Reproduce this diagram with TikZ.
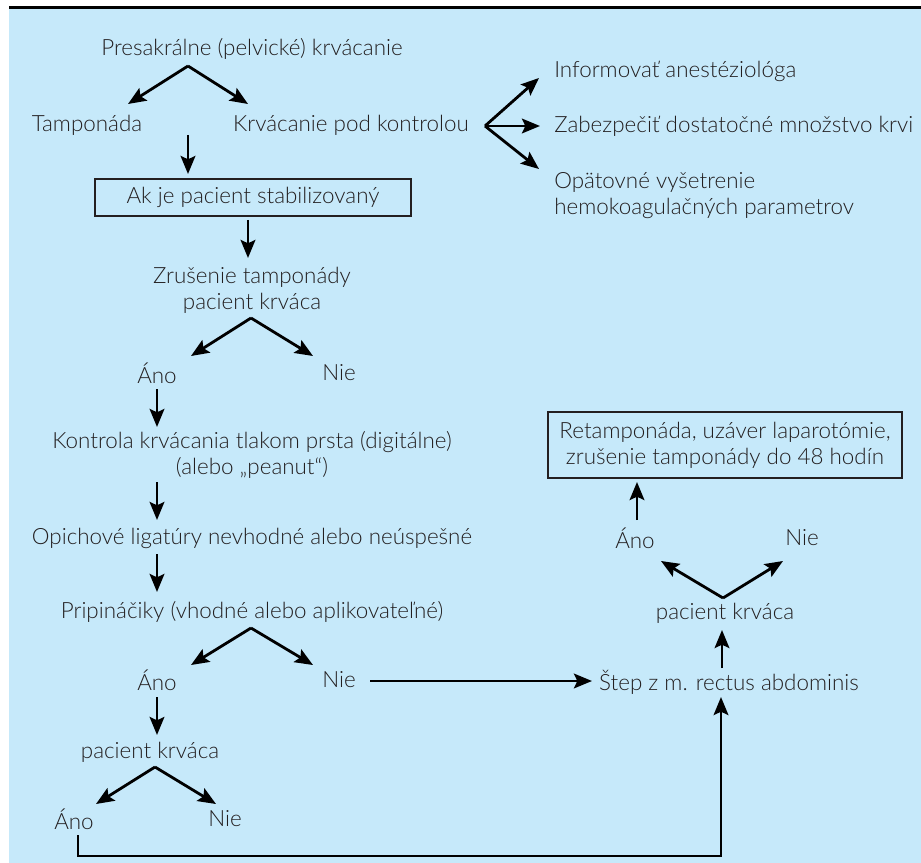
\documentclass[tikz,border=0pt]{standalone}
\usepackage{fontspec}
\setmainfont{Lato Light}
\usetikzlibrary{arrows.meta}
\definecolor{bg}{RGB}{198,233,250}
\definecolor{ink}{RGB}{35,31,32}
\begin{document}
\begin{tikzpicture}[x=0.75pt,y=-0.75pt,
  font=\fontsize{16.8}{19.5}\selectfont,
  txt/.style={inner sep=0pt, text=ink, align=center},
  boxed/.style={draw=ink, line width=0.8pt, inner sep=0pt, text=ink, align=center},
  arr/.style={line width=2.1pt, draw=black, -{Stealth[length=13.5pt,width=11pt,inset=2.5pt]}},
  ln/.style={line width=2.1pt, draw=black}]
\useasboundingbox (0,0) rectangle (921,863);
\fill[bg] (9,9) rectangle (921,863);
\fill[black] (9,6) rectangle (921,9);

% nodes
\node[txt] (t1) at (252,49) {Presakrálne (pelvické) krvácanie};
\node[txt] (tamp) at (87,125) {Tamponáda};
\node[txt] (kpk) at (351,125) {Krvácanie pod kontrolou};
\node[txt, anchor=west] (info) at (554,71) {Informovať anestéziológa};
\node[txt, anchor=west] (zab) at (554,126) {Zabezpečiť dostatočné množstvo krvi};
\node[txt, anchor=west, align=left] (opat) at (554,196) {Opätovné vyšetrenie\\hemokoagulačných parametrov};
\node[boxed, minimum width=237pt, minimum height=27.75pt] (box1) at (253,197.5) {Ak je pacient stabilizovaný};
\node[txt] (zrus) at (252,290) {Zrušenie tamponády\\pacient krváca};
\node[txt] (ano1) at (157,373) {Áno};
\node[txt] (nie1) at (339,373) {Nie};
\node[txt] (kontr) at (252,455) {Kontrola krvácania tlakom prsta (digitálne)\\(alebo „peanut“)};
\node[txt] (opich) at (252,538) {Opichové ligatúry nevhodné alebo neúspešné};
\node[txt] (prip) at (252,612) {Pripináčiky (vhodné alebo aplikovateľné)};
\node[txt] (ano2) at (157,680) {Áno};
\node[txt] (nie2) at (339,680) {Nie};
\node[txt] (pk2) at (150,752) {pacient krváca};
\node[txt] (ano3) at (74,819) {Áno};
\node[txt] (nie3) at (225,819) {Nie};
\node[boxed, minimum width=265.5pt, minimum height=49.5pt] (box2) at (725,445) {Retamponáda, uzáver laparotómie,\\zrušenie tamponády do 48 hodín};
\node[txt] (ano4) at (635,538) {Áno};
\node[txt] (nie4) at (802,538) {Nie};
\node[txt] (pk3) at (725,613) {pacient krváca};
\node[txt] (stepn) at (729,682) {Štep z m. rectus abdominis};

% connector points
\coordinate (f1) at (188,66);
\coordinate (f1l) at (128,104);
\coordinate (f1r) at (248,104);
\coordinate (d1) at (188,135);
\coordinate (d1e) at (188,174);
\coordinate (f2) at (485,126);
\coordinate (f2a) at (539,78);
\coordinate (f2b) at (540,126);
\coordinate (f2c) at (539,169);
\coordinate (f3) at (251,318);
\coordinate (f3l) at (191,356);
\coordinate (f3r) at (313,356);
\coordinate (f4) at (251,628);
\coordinate (f4l) at (191,665);
\coordinate (f4r) at (313,665);
\coordinate (f5) at (155,767);
\coordinate (f5l) at (96,804);
\coordinate (f5r) at (216,804);
\coordinate (f6) at (723,598);
\coordinate (f6l) at (661,561);
\coordinate (f6r) at (783,561);
\coordinate (nieS) at (370,681);
\coordinate (stepW) at (592,681);
\coordinate (anoB) at (78,835);
\coordinate (corner1) at (78,856);
\coordinate (corner2) at (721,856);
\coordinate (stepS) at (721,697);

% connectors
\draw[arr] (f1) -- (f1l);
\draw[arr] (f1) -- (f1r);
\draw[arr] (d1) -- (d1e);
\draw[arr] (f2) -- (f2a);
\draw[arr] (f2) -- (f2b);
\draw[arr] (f2) -- (f2c);
\draw[arr] (248,220) -- (248,258);
\draw[arr] (f3) -- (f3l);
\draw[arr] (f3) -- (f3r);
\draw[arr] (157,389) -- (157,427);
\draw[arr] (157,482) -- (157,520);
\draw[arr] (157,554) -- (157,592);
\draw[arr] (f4) -- (f4l);
\draw[arr] (f4) -- (f4r);
\draw[arr] (nieS) -- (stepW);
\draw[arr] (157,697) -- (157,735);
\draw[arr] (f5) -- (f5l);
\draw[arr] (f5) -- (f5r);
\draw[arr,line join=miter] (anoB) -- (corner1) -- (corner2) -- (stepS);
\draw[arr] (f6) -- (f6l);
\draw[arr] (f6) -- (f6r);
\draw[arr] (722,668) -- (722,630);
\draw[arr] (637,520) -- (637,482);
\end{tikzpicture}
\end{document}
